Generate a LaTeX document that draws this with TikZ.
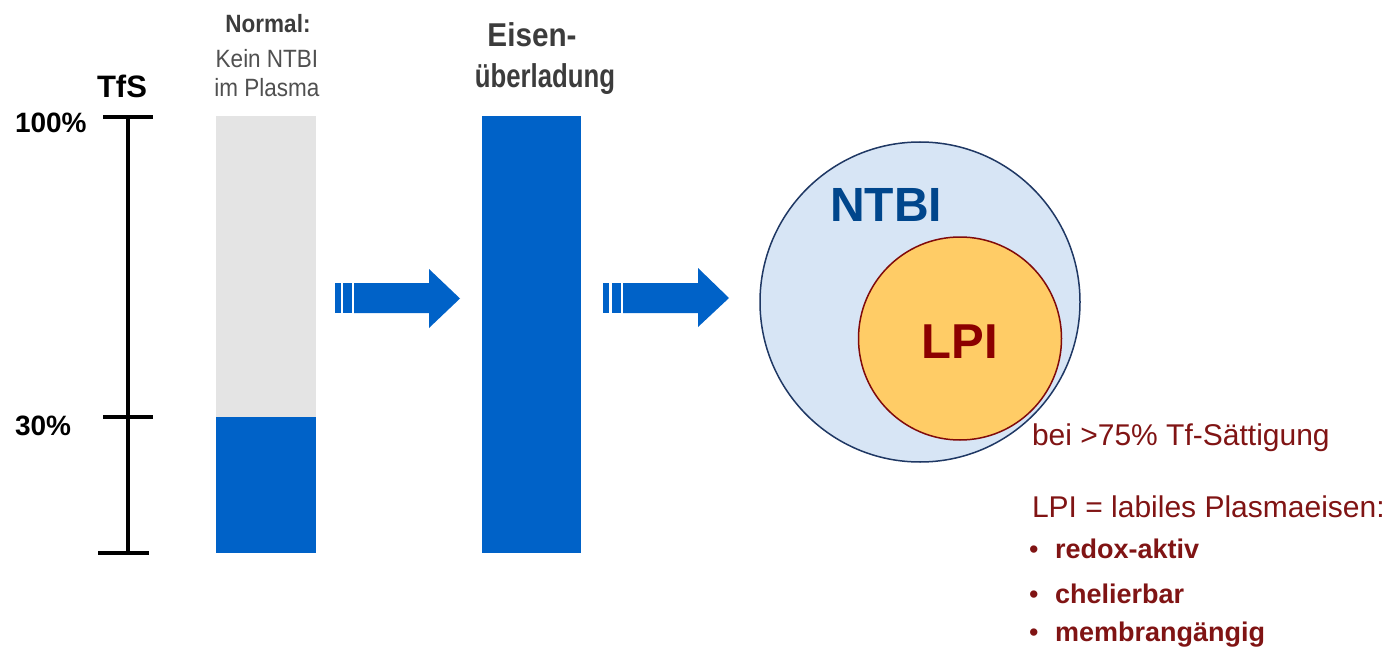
\documentclass[tikz,border=0pt]{standalone}
\usepackage{fontspec}
\setmainfont{Liberation Sans}
\newfontfamily\condfont[FakeStretch=0.9]{Liberation Sans}
\newfontfamily\narrowfont[FakeStretch=0.78]{Liberation Sans}
\definecolor{barblue}{RGB}{0,98,200}
\definecolor{bargrey}{RGB}{228,228,228}
\definecolor{ntbifill}{RGB}{215,229,245}
\definecolor{ntbiline}{RGB}{31,56,100}
\definecolor{ntbitext}{RGB}{0,70,140}
\definecolor{lpifill}{RGB}{255,204,102}
\definecolor{lpiline}{RGB}{128,10,10}
\definecolor{lpitext}{RGB}{140,0,0}
\definecolor{darkred}{RGB}{128,20,20}
\definecolor{headgrey}{RGB}{60,60,60}
\definecolor{subgrey}{RGB}{80,80,80}
\newcommand{\fsz}[1]{\fontsize{#1}{#1}\selectfont}
\begin{document}
\begin{tikzpicture}[x=1pt,y=-1pt,
  lbl/.style={inner sep=0pt, outer sep=0pt},
  axis/.style={line width=4pt, black},
  blockarrow/.style={fill=barblue, draw=none}]
\useasboundingbox (0,0) rectangle (1398,650);
\fill[white] (0,0) rectangle (1398,650);

% axis
\draw[axis] (128,117) -- (128,553);
\draw[axis] (103,117) -- (153,117);
\draw[axis] (103,417) -- (153,417);
\draw[axis] (98,553) -- (149,553);
\node[lbl, anchor=base] (tfs) at (122,98) {\fsz{31}\bfseries TfS};
\node[lbl, anchor=base west] (p100) at (15,133) {\fsz{28}\bfseries 100\%};
\node[lbl, anchor=base west] (p30) at (15,435) {\fsz{28}\bfseries 30\%};

% normal bar
\fill[bargrey] (216,116) rectangle (316,417);
\fill[barblue] (216,417) rectangle (316,553);
\node[lbl, anchor=base, text=headgrey] (normal) at (268,33) {\condfont\fsz{25}\bfseries Normal:};
\node[lbl, anchor=base, text=subgrey] (kein) at (267,68) {\condfont\fsz{25}Kein NTBI};
\node[lbl, anchor=base, text=subgrey] (plasma) at (267,97) {\condfont\fsz{25}im Plasma};

% overload bar
\fill[barblue] (482,116) rectangle (581,553);
\node[lbl, anchor=base, text=headgrey] (eisen) at (532,47) {\condfont\fsz{33}\bfseries Eisen-};
\node[lbl, anchor=base, text=headgrey] (ueber) at (545,88) {\narrowfont\fsz{33}\bfseries überladung};

% arrow 1
\fill[blockarrow] (335,283) rectangle (341,313);
\fill[blockarrow] (343,283) rectangle (352,313);
\fill[blockarrow] (354,283) -- (429,283) -- (429,269) -- (460,298.5) -- (429,328) -- (429,313) -- (354,313) -- cycle;
% arrow 2
\fill[blockarrow] (603,283) rectangle (609,313);
\fill[blockarrow] (612,283) rectangle (621,313);
\fill[blockarrow] (623,283) -- (698,283) -- (698,268) -- (729,298) -- (698,327) -- (698,313) -- (623,313) -- cycle;

% circles
\draw[fill=ntbifill, draw=ntbiline, line width=1.5pt] (920,302) circle[radius=160];
\draw[fill=lpifill, draw=lpiline, line width=1.5pt] (960,338.5) circle[radius=101.5];
\node[lbl, anchor=base, text=ntbitext] (ntbi) at (886,222) {\fsz{48}\bfseries NTBI};
\node[lbl, anchor=base, text=lpitext] (lpi) at (960,358) {\fsz{49}\bfseries LPI};

% right text
\node[lbl, anchor=base west, text=darkred] (bei) at (1032,445) {\fsz{30}bei >75\% Tf-Sättigung};
\node[lbl, anchor=base west, text=darkred] (lpidef) at (1032,517) {\fsz{30}LPI = labiles Plasmaeisen:};
\node[lbl, anchor=base west, text=darkred] (b1) at (1029,558) {\fsz{27}•};
\node[lbl, anchor=base west, text=darkred] (t1) at (1055,558) {\fsz{27}\bfseries redox-aktiv};
\node[lbl, anchor=base west, text=darkred] (b2) at (1029,603) {\fsz{27}•};
\node[lbl, anchor=base west, text=darkred] (t2) at (1055,603) {\fsz{27}\bfseries chelierbar};
\node[lbl, anchor=base west, text=darkred] (b3) at (1029,641) {\fsz{27}•};
\node[lbl, anchor=base west, text=darkred] (t3) at (1055,641) {\fsz{27}\bfseries membrangängig};
\end{tikzpicture}
\end{document}
